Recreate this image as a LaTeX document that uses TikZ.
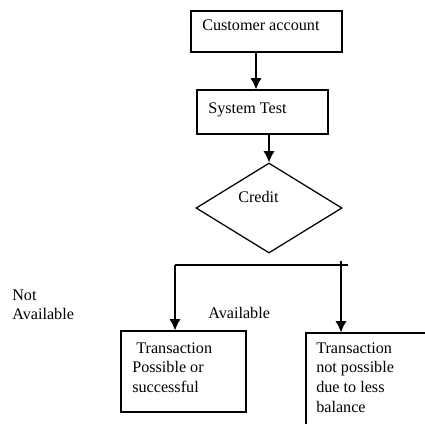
\documentclass[tikz,border=0pt]{standalone}
\usepackage{fontspec}
\setmainfont{Liberation Serif}
\usepackage{tikz}
\usetikzlibrary{arrows.meta}
\usetikzlibrary{shapes.geometric}
\usetikzlibrary{calc}
\tikzset{>={Latex[length=8pt,width=8pt]}}
\tikzset{
    block/.style={draw, line width=0.9pt, rectangle, inner sep=0pt},
    decision/.style={draw, line width=0.9pt, diamond, inner sep=0pt},
    txt/.style={inner sep=0pt, anchor=north west, align=left, font=\fontsize{11.5}{14}\selectfont},
    flow/.style={->, line width=0.9pt},
    branch/.style={line width=0.9pt}
}

\begin{document}
\begin{tikzpicture}[x=0.025cm, y=-0.025cm]

    \useasboundingbox (0,0) rectangle (425,423);

    \node[block, minimum width=3.775cm, minimum height=1.025cm] (account) at (266.5,31.5) {};
    \node[txt] (account text) at (202,20) {Customer account};

    \node[block, minimum width=3.275cm, minimum height=1.1cm] (test) at (262.5,112) {};
    \node[txt] (test text) at (208,103) {System Test};

    \node[decision, minimum width=3.65cm, minimum height=2.25cm] (credit) at (269,208) {};
    \node[txt] (credit text) at (238,191) {Credit};

    \node[block, minimum width=3.125cm, minimum height=2.025cm] (possible) at (183.5,371.5) {};
    \node[txt] (possible text) at (132,342) {\ Transaction\\Possible or\\successful};

    \node[block, minimum width=3.5cm, minimum height=2.75cm] (impossible) at (376,388) {};
    \node[txt] (impossible text) at (316,342) {Transaction\\not possible\\due to less\\balance};

    \node[txt, font=\fontsize{11.5}{13}\selectfont] (not available) at (12,290) {Not\\Available};
    \node[txt] (available) at (208,307) {Available};

    \coordinate (split left) at (175,265);
    \coordinate (split right) at (348,265);
    \coordinate (right top) at (341,261);

    \draw[flow] ($(account.south)+(-10.5,0)$) -- ($(account.south |- test.north)+(-10.5,0)$);
    \draw[flow] (test.south -| credit.north) -- (credit.north);

    \draw[branch] (split left) -- (split right);
    \draw[flow] (split left) -- (split left |- possible.north);
    \draw[flow] (right top) -- (right top |- impossible.north);

\end{tikzpicture}
\end{document}
